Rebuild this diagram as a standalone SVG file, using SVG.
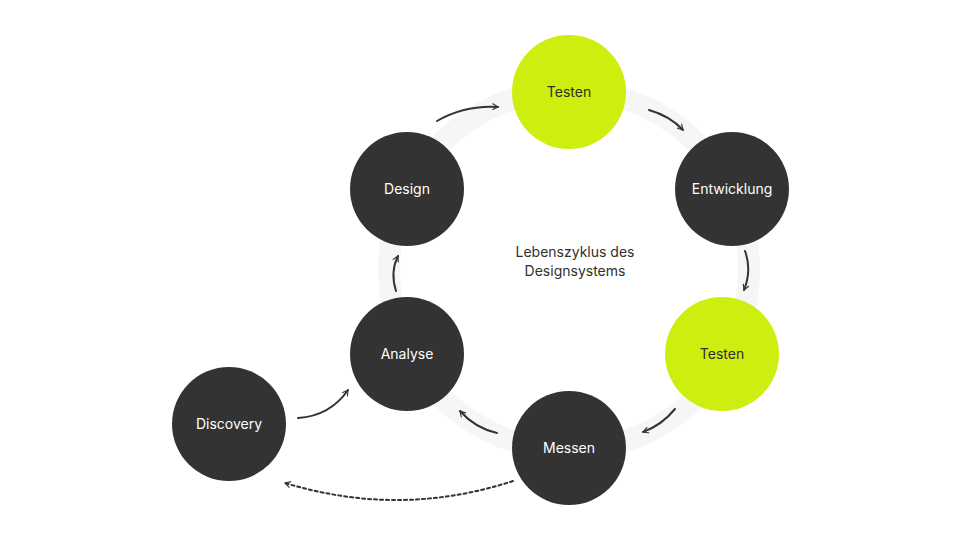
<svg xmlns="http://www.w3.org/2000/svg" width="960" height="540" viewBox="0 0 960 540">
<style>
.d{fill:#333333}.g{fill:#cdee0e}
text{font-family:Inter,"Liberation Sans",sans-serif;font-size:14px;text-anchor:middle}
.w{fill:#ffffff}.k{fill:#2f2f2f}
.a{fill:none;stroke:#333;stroke-width:2;stroke-linecap:round;marker-end:url(#h)}
</style>
<defs><marker id="h" viewBox="0 0 10 10" refX="9" refY="5" markerWidth="7" markerHeight="7" orient="auto" markerUnits="userSpaceOnUse"><path d="M1,0.5 L9,5 L1,9.5" fill="none" stroke="#333" stroke-width="1.6" stroke-linejoin="round"/></marker></defs>
<rect width="960" height="540" fill="#fff"/>
<circle cx="569" cy="270" r="180" fill="none" stroke="#f6f6f6" stroke-width="22"/>
<text class="k" x="575" y="257">Lebenszyklus des</text>
<text class="k" x="575" y="276">Designsystems</text>
<g id="connectors">
<path class="a" d="M437,121 Q465,105 498,107"/>
<path class="a" d="M649,110 Q670,116 683,130"/>
<path class="a" d="M745,251 Q752,270 744,290"/>
<path class="a" d="M675,409 Q662,425 643,432"/>
<path class="a" d="M497,433 Q475,428 460,411"/>
<path class="a" d="M396,291 Q390,272 398,256"/>
<path class="a" d="M298,418 Q330,416 348,390"/>
<path class="a" d="M513,481 Q400,518 285,483" stroke-dasharray="3,3"/>
</g>
<g id="testen1"><circle class="g" cx="569" cy="92" r="57"/><text class="k" x="569" y="97">Testen</text></g>
<g id="entwicklung"><circle class="d" cx="732" cy="189" r="57"/><text class="w" x="732" y="194">Entwicklung</text></g>
<g id="testen2"><circle class="g" cx="722" cy="354" r="57"/><text class="k" x="722" y="359">Testen</text></g>
<g id="messen"><circle class="d" cx="569" cy="448" r="57"/><text class="w" x="569" y="453">Messen</text></g>
<g id="analyse"><circle class="d" cx="407" cy="354" r="57"/><text class="w" x="407" y="359">Analyse</text></g>
<g id="design"><circle class="d" cx="407" cy="189" r="57"/><text class="w" x="407" y="194">Design</text></g>
<g id="discovery"><circle class="d" cx="229" cy="424" r="57"/><text class="w" x="229" y="429">Discovery</text></g>
</svg>
